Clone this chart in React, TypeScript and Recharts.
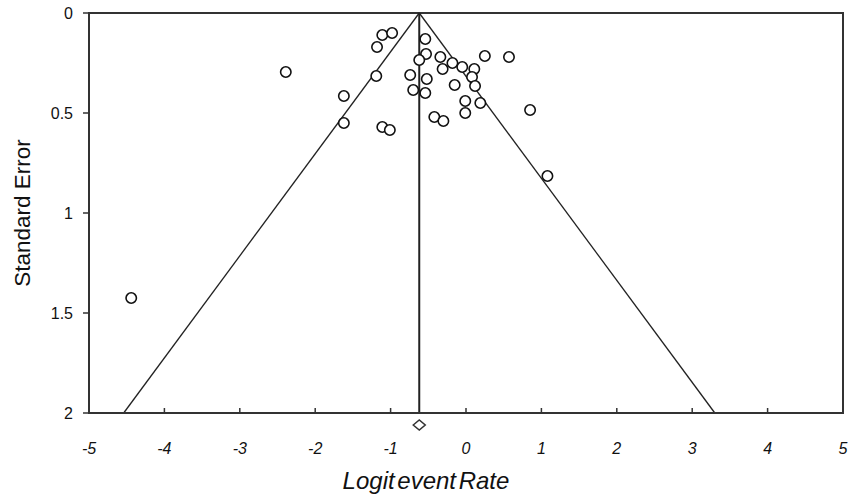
import {
  ScatterChart,
  Scatter,
  XAxis,
  YAxis,
  ReferenceLine,
  ReferenceArea,
  ReferenceDot,
} from "recharts";

// study estimates
const logitRate = [
  -1.11, -0.98, -1.18, -0.54, -0.53, -0.62, -0.34, -0.31, -0.18, -0.05, 0.11, 0.25,
  0.57, 0.08, -1.19, -0.74, -0.52, -0.15, 0.12, -0.7, -0.54, -0.01, 0.19, -0.01,
  0.85, -0.42, -0.3, -1.11, -1.01, -1.62, -1.62, -2.39, 1.08, -4.44,
];
const stdError = [
  0.11, 0.1, 0.17, 0.13, 0.205, 0.235, 0.22, 0.28, 0.25, 0.27, 0.28, 0.215, 0.22,
  0.32, 0.315, 0.31, 0.33, 0.36, 0.365, 0.385, 0.4, 0.44, 0.45, 0.5, 0.485, 0.52,
  0.54, 0.57, 0.585, 0.415, 0.55, 0.295, 0.815, 1.425,
];
const pooled = -0.62;
const diamondSE = 2.06;
const xTicks = [-5, -4, -3, -2, -1, 0, 1, 2, 3, 4, 5];
const yTicks = [0, 0.5, 1, 1.5, 2];

const points = logitRate.map((x, i) => ({ x, y: stdError[i] }));
const seMax = 2;
const font = "Liberation Sans, Arial, sans-serif";

const Circle = ({ cx, cy }: any) => (
  <circle cx={cx} cy={cy} r={5.2} fill="#fff" stroke="#111" strokeWidth={1.6} />
);

const XTick = ({ x, y, payload }: any) => (
  <g>
    {payload.value > -5 && payload.value < 5 && (
      <line x1={x} x2={x} y1={y} y2={y - 5} stroke="#333" strokeWidth={1.5} />
    )}
    <text
      x={x}
      y={y + 41}
      textAnchor="middle"
      fontStyle="italic"
      fontSize={16}
      fontFamily={font}
      fill="#111"
    >
      {payload.value}
    </text>
  </g>
);

const Diamond = ({ cx, cy }: any) => (
  <path
    d={`M${cx - 6},${cy} L${cx},${cy - 5} L${cx + 6},${cy} L${cx},${cy + 5} Z`}
    fill="#fff"
    stroke="#333"
    strokeWidth={1.5}
  />
);

export default function App() {
  return (
    <div style={{ position: "absolute", left: 0, top: 0, background: "#fff" }}>
      <ScatterChart width={856} height={495} margin={{ top: 13, right: 13, left: 0, bottom: 0 }}>
        <XAxis
          type="number"
          dataKey="x"
          domain={[-5, 5]}
          ticks={xTicks}
          height={82}
          tickSize={0}
          tickMargin={0}
          tick={<XTick />}
          axisLine={{ stroke: "#333", strokeWidth: 2 }}
          tickLine={false}
          label={{
            value: "Logit event Rate",
            position: "insideBottom",
            dx: -40,
            offset: 6,
            style: {
              fontStyle: "italic",
              fontSize: 24,
              fill: "#111",
              fontFamily: font,
              wordSpacing: -4,
            },
          }}
        />
        <YAxis
          type="number"
          dataKey="y"
          reversed
          domain={[0, seMax]}
          ticks={yTicks}
          width={89}
          tickSize={6}
          tickMargin={10}
          tick={{ fontSize: 16, fill: "#111", fontFamily: font }}
          axisLine={{ stroke: "#333", strokeWidth: 2 }}
          tickLine={{ stroke: "#333", strokeWidth: 1.5 }}
          label={{
            value: "Standard Error",
            angle: -90,
            position: "insideLeft",
            offset: 22,
            style: {
              textAnchor: "middle",
              fontSize: 22.5,
              fill: "#111",
              fontFamily: font,
            },
          }}
        />
        <ReferenceArea x1={-5} x2={5} y1={0} y2={seMax} fill="none" stroke="#333" strokeWidth={2} />
        <ReferenceLine
          segment={[
            { x: pooled, y: 0 },
            { x: pooled - 1.96 * seMax, y: seMax },
          ]}
          stroke="#222"
          strokeWidth={1.3}
        />
        <ReferenceLine
          segment={[
            { x: pooled, y: 0 },
            { x: pooled + 1.96 * seMax, y: seMax },
          ]}
          stroke="#222"
          strokeWidth={1.3}
        />
        <ReferenceLine x={pooled} stroke="#222" strokeWidth={2} />
        <Scatter data={points} shape={<Circle />} isAnimationActive={false} />
        <ReferenceDot x={pooled} y={diamondSE} ifOverflow="visible" shape={<Diamond />} />
      </ScatterChart>
    </div>
  );
}
